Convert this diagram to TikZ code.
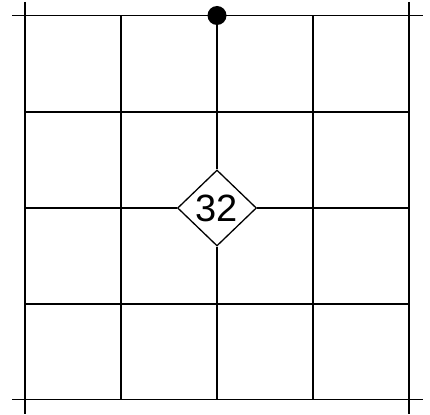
\documentclass[tikz,border=0pt]{standalone}
\usepackage{fontspec}
\setmainfont{Liberation Sans}
\usetikzlibrary{shapes.geometric}
\tikzset{
  gridline/.style={line width=1.3pt,draw=black},
  valve/.style={diamond,draw=black,fill=white,line width=1.3pt,minimum width=79pt,
    minimum height=76pt,inner sep=0pt,font=\fontsize{38}{38}\selectfont},
  junction/.style={circle,fill=black,minimum size=19pt,inner sep=0pt}
}
\begin{document}
\begin{tikzpicture}[x=1pt,y=-1pt]
\useasboundingbox (0,0) rectangle (430,414);
% inner grid lines
\foreach \x in {121,313} \draw[gridline] (\x,15.5) -- (\x,399.5);
\foreach \y in {112,304} \draw[gridline] (25,\y) -- (409,\y);
% outer lines, running past the corners
\foreach \x in {25,409} \draw[gridline] (\x,2) -- (\x,414);
\foreach \y in {15.5,399.5} \draw[gridline] (12,\y) -- (423,\y);
% middle cross with the diamond
\node[valve] (v32) at (217,208) {32};
\node[junction] (top) at (217,15.5) {};
\coordinate (bot) at (217,399.5);
\coordinate (wend) at (25,208);
\coordinate (eend) at (409,208);
\draw[gridline] (top) -- (v32);
\draw[gridline] (v32) -- (bot);
\draw[gridline] (wend) -- (v32);
\draw[gridline] (v32) -- (eend);
\end{tikzpicture}
\end{document}
